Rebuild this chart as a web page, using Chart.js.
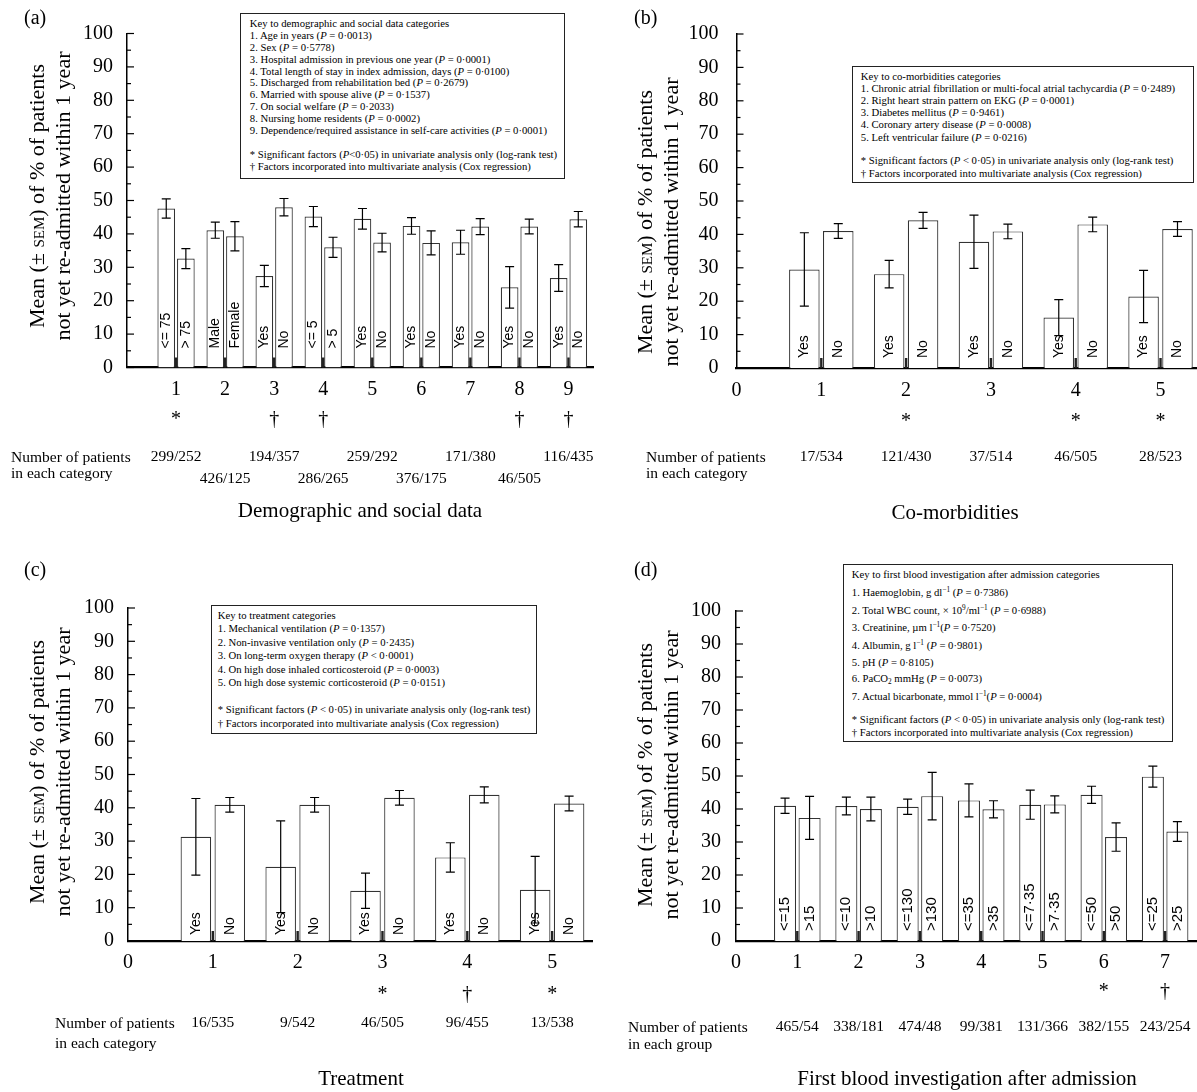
<!DOCTYPE html>
<html>
<head>
<meta charset="utf-8">
<script src="https://cdn.jsdelivr.net/npm/chart.js@4.4.1/dist/chart.umd.min.js"></script>
<style>
html,body{margin:0;padding:0;background:#fff;}
body{width:1197px;height:1092px;position:relative;overflow:hidden;font-family:"Liberation Serif","Times New Roman",serif;color:#000;}
canvas{position:absolute;}
.yt{position:absolute;white-space:nowrap;transform:translate(-50%,-50%) rotate(-90deg);font-size:22px;line-height:26px;text-align:center;}
.sc{font-variant:small-caps;}
.key{position:absolute;border:1.2px solid #222;box-sizing:border-box;background:#fff;}
.key .ln{position:absolute;white-space:nowrap;font-size:10.7px;line-height:12px;}
.key sup{font-size:0.68em;line-height:0;vertical-align:0.55em;}
.key sub{font-size:0.68em;line-height:0;vertical-align:-0.3em;}
.ttl{position:absolute;white-space:nowrap;font-size:21px;transform:translate(-50%,-50%);}
.np{position:absolute;white-space:nowrap;font-size:15.5px;}
.lt{position:absolute;font-size:20px;line-height:20px;transform:translate(0,-50%);}
</style>
</head>
<body>
<script>
// ---------------- DATA ----------------
// (a) Demographic and social data
const demoCategories = [1, 2, 3, 4, 5, 6, 7, 8, 9];
const demoBarLabelsA = ['<= 75', 'Male', 'Yes', '<= 5', 'Yes', 'Yes', 'Yes', 'Yes', 'Yes'];
const demoBarLabelsB = ['> 75', 'Female', 'No', '> 5', 'No', 'No', 'No', 'No', 'No'];
const demoMeanA = [47.6, 41.1, 27.4, 45.2, 44.5, 42.4, 37.5, 24.0, 26.8];
const demoSemA  = [2.9, 2.4, 3.2, 3.0, 3.1, 2.5, 3.6, 6.2, 4.0];
const demoMeanB = [32.6, 39.3, 48.0, 36.0, 37.4, 37.3, 42.2, 42.2, 44.4];
const demoSemB  = [3.0, 4.4, 2.6, 3.0, 2.8, 3.6, 2.4, 2.2, 2.3];
const demoPatients = ['299/252', '426/125', '194/357', '286/265', '259/292', '376/175', '171/380', '46/505', '116/435'];
const demoSignif = ['*', '', '†', '†', '', '', '', '†', '†'];

// (b) Co-morbidities
const comorbCategories = [1, 2, 3, 4, 5];
const comorbBarLabelsA = ['Yes', 'Yes', 'Yes', 'Yes', 'Yes'];
const comorbBarLabelsB = ['No', 'No', 'No', 'No', 'No'];
const comorbMeanYes = [29.5, 28.1, 37.8, 15.1, 21.4];
const comorbSemYes  = [11.0, 4.1, 8.0, 5.4, 7.8];
const comorbMeanNo  = [41.0, 44.2, 40.9, 43.0, 41.6];
const comorbSemNo   = [2.2, 2.4, 2.2, 2.2, 2.2];
const comorbPatients = ['17/534', '121/430', '37/514', '46/505', '28/523'];
const comorbSignif = ['', '*', '', '*', '*'];

// (c) Treatment
const treatCategories = [1, 2, 3, 4, 5];
const treatBarLabelsA = ['Yes', 'Yes', 'Yes', 'Yes', 'Yes'];
const treatBarLabelsB = ['No', 'No', 'No', 'No', 'No'];
const treatMeanYes = [31.3, 22.3, 15.1, 25.1, 15.4];
const treatSemYes  = [11.5, 13.8, 5.3, 4.4, 10.0];
const treatMeanNo  = [40.9, 40.9, 43.0, 43.9, 41.3];
const treatSemNo   = [2.2, 2.2, 2.2, 2.4, 2.2];
const treatPatients = ['16/535', '9/542', '46/505', '96/455', '13/538'];
const treatSignif = ['', '', '*', '†', '*'];

// (d) First blood investigation after admission
const bloodCategories = [1, 2, 3, 4, 5, 6, 7];
const bloodBarLabelsA = ['<=15', '<=10', '<=130', '<=35', '<=7·35', '<=50', '<=25'];
const bloodBarLabelsB = ['>15', '>10', '>130', '>35', '>7·35', '>50', '>25'];
const bloodMeanLow  = [41.0, 40.9, 40.7, 42.6, 41.3, 44.3, 49.8];
const bloodSemLow   = [2.3, 2.7, 2.3, 5.0, 4.4, 2.6, 3.2];
const bloodMeanHigh = [37.3, 40.0, 43.9, 39.9, 41.4, 31.5, 33.2];
const bloodSemHigh  = [6.5, 3.6, 7.2, 2.6, 2.6, 4.3, 3.0];
const bloodPatients = ['465/54', '338/181', '474/48', '99/381', '131/366', '382/155', '243/254'];
const bloodSignif = ['', '', '', '', '', '*', '†'];

const yTickLabels = [0, 10, 20, 30, 40, 50, 60, 70, 80, 90, 100];

// ---------------- TEXT ----------------
const keyDemo = [
  'Key to demographic and social data categories',
  '1. Age in years (<i>P</i> = 0·0013)',
  '2. Sex (<i>P</i> = 0·5778)',
  '3. Hospital admission in previous one year (<i>P</i> = 0·0001)',
  '4. Total length of stay in index admission, days (<i>P</i> = 0·0100)',
  '5. Discharged from rehabilitation bed (<i>P</i> = 0·2679)',
  '6. Married with spouse alive (<i>P</i> = 0·1537)',
  '7. On social welfare (<i>P</i> = 0·2033)',
  '8. Nursing home residents (<i>P</i> = 0·0002)',
  '9. Dependence/required assistance in self-care activities (<i>P</i> = 0·0001)',
  '* Significant factors (<i>P</i>&lt;0·05) in univariate analysis only (log-rank test)',
  '† Factors incorporated into multivariate analysis (Cox regression)'
];
const keyComorb = [
  'Key to co-morbidities categories',
  '1. Chronic atrial fibrillation or multi-focal atrial tachycardia (<i>P</i> = 0·2489)',
  '2. Right heart strain pattern on EKG (<i>P</i> = 0·0001)',
  '3. Diabetes mellitus (<i>P</i> = 0·9461)',
  '4. Coronary artery disease (<i>P</i> = 0·0008)',
  '5. Left ventricular failure (<i>P</i> = 0·0216)',
  '* Significant factors (<i>P</i> &lt; 0·05) in univariate analysis only (log-rank test)',
  '† Factors incorporated into multivariate analysis (Cox regression)'
];
const keyTreat = [
  'Key to treatment categories',
  '1. Mechanical ventilation (<i>P</i> = 0·1357)',
  '2. Non-invasive ventilation only (<i>P</i> = 0·2435)',
  '3. On long-term oxygen therapy (<i>P</i> &lt; 0·0001)',
  '4. On high dose inhaled corticosteroid (<i>P</i> = 0·0003)',
  '5. On high dose systemic corticosteroid (<i>P</i> = 0·0151)',
  '* Significant factors (<i>P</i> &lt; 0·05) in univariate analysis only (log-rank test)',
  '† Factors incorporated into multivariate analysis (Cox regression)'
];
const keyBlood = [
  'Key to first blood investigation after admission categories',
  '1. Haemoglobin, g dl<sup>−1</sup> (<i>P</i> = 0·7386)',
  '2. Total WBC count, × 10<sup>9</sup>/ml<sup>−1</sup> (<i>P</i> = 0·6988)',
  '3. Creatinine, µm l<sup>−1</sup>(<i>P</i> = 0·7520)',
  '4. Albumin, g l<sup>−1</sup> (<i>P</i> = 0·9801)',
  '5. pH (<i>P</i> = 0·8105)',
  '6. PaCO<sub>2</sub> mmHg (<i>P</i> = 0·0073)',
  '7. Actual bicarbonate, mmol l<sup>−1</sup>(<i>P</i> = 0·0004)',
  '* Significant factors (<i>P</i> &lt; 0·05) in univariate analysis only (log-rank test)',
  '† Factors incorporated into multivariate analysis (Cox regression)'
];

// ---------------- LAYOUT ----------------
const SERIF = '"Liberation Serif", "Times New Roman", serif';
const SANS = '"Liberation Sans", Arial, sans-serif';
const OFF = 0.2;

const panels = [
  { id:'a', box:{left:0, top:0, w:598, h:546}, area:{left:127, top:33.5, right:593, bottom:367.5},
    xMax:9.5, showZero:false, xPad:10, yPad:14,
    cats:demoCategories, meanA:demoMeanA, semA:demoSemA, meanB:demoMeanB, semB:demoSemB,
    labA:demoBarLabelsA, labB:demoBarLabelsB, patients:demoPatients, signif:demoSignif,
    labGap:19, labFont:14, markBase:57.5, countRows:[89.5, 111.5] },
  { id:'b', box:{left:598, top:0, w:599, h:546}, area:{left:736.5, top:34, right:1197, bottom:368},
    xMax:5.43, showZero:true, xPad:11, yPad:18,
    cats:comorbCategories, meanA:comorbMeanYes, semA:comorbSemYes, meanB:comorbMeanNo, semB:comorbSemNo,
    labA:comorbBarLabelsA, labB:comorbBarLabelsB, patients:comorbPatients, signif:comorbSignif,
    labGap:10, labFont:14, markBase:59, countRows:[89] },
  { id:'c', box:{left:0, top:546, w:598, h:546}, area:{left:128, top:608, right:592, bottom:941},
    xMax:5.47, showZero:true, xPad:10, yPad:14,
    cats:treatCategories, meanA:treatMeanYes, semA:treatSemYes, meanB:treatMeanNo, semB:treatSemNo,
    labA:treatBarLabelsA, labB:treatBarLabelsB, patients:treatPatients, signif:treatSignif,
    labGap:6, labFont:14, markBase:59, countRows:[82] },
  { id:'d', box:{left:598, top:546, w:599, h:546}, area:{left:736, top:611, right:1197, bottom:941},
    xMax:7.52, showZero:true, xPad:10, yPad:15,
    cats:bloodCategories, meanA:bloodMeanLow, semA:bloodSemLow, meanB:bloodMeanHigh, semB:bloodSemHigh,
    labA:bloodBarLabelsA, labB:bloodBarLabelsB, patients:bloodPatients, signif:bloodSignif,
    labGap:10, labFont:15, markBase:56, countRows:[86] }
];

const keys = [
  { lines:keyDemo,   left:240, top:13, right:565,  bottom:179, textLeft:250,
    ys:[23, 35, 46.9, 58.8, 70.7, 82.6, 94.5, 106.4, 118.3, 130.2, 154, 166] },
  { lines:keyComorb, left:852, top:66, right:1194, bottom:183, textLeft:861,
    ys:[76, 88, 100.2, 112.4, 124.6, 136.8, 160, 173] },
  { lines:keyTreat,  left:211, top:605, right:537, bottom:734, textLeft:218,
    ys:[615, 628.5, 642, 655.5, 669, 682.5, 709, 723] },
  { lines:keyBlood,  left:843, top:564, right:1173, bottom:742, textLeft:852,
    ys:[574, 592, 610, 627, 645, 662, 678, 696, 719, 732] }
];

const yTitles = [ {x:50, y:196}, {x:658, y:222}, {x:50, y:772}, {x:658, y:775} ];
const letters = [ {t:'(a)', x:24, y:17}, {t:'(b)', x:634, y:17}, {t:'(c)', x:24, y:569}, {t:'(d)', x:634, y:569} ];
const xTitles = [
  {t:'Demographic and social data', x:360, y:510},
  {t:'Co-morbidities', x:955, y:512},
  {t:'Treatment', x:361, y:1078},
  {t:'First blood investigation after admission', x:967, y:1078}
];
const npLabels = [
  {l1:'Number of patients', l2:'in each category', x:11, y:449, lh:16},
  {l1:'Number of patients', l2:'in each category', x:646, y:449, lh:16},
  {l1:'Number of patients', l2:'in each category', x:55, y:1013, lh:19.5},
  {l1:'Number of patients', l2:'in each group', x:628, y:1019, lh:16.5}
];

// ---------------- HTML TEXT ----------------
function add(html, cls, style) {
  const d = document.createElement('div');
  d.className = cls; d.innerHTML = html;
  Object.assign(d.style, style);
  document.body.appendChild(d);
  return d;
}
yTitles.forEach(p => add('Mean (± <span class="sc">sem</span>) of % of patients<br>not yet re-admitted within 1 year', 'yt', {left:p.x+'px', top:p.y+'px'}));
letters.forEach(p => add(p.t, 'lt', {left:p.x+'px', top:p.y+'px'}));
xTitles.forEach(p => add(p.t, 'ttl', {left:p.x+'px', top:p.y+'px'}));
npLabels.forEach(p => add(p.l1 + '<br>' + p.l2, 'np', {left:p.x+'px', top:p.y+'px', lineHeight:p.lh+'px'}));
keys.forEach(k => {
  const box = add('', 'key', {left:k.left+'px', top:k.top+'px', width:(k.right-k.left)+'px', height:(k.bottom-k.top)+'px'});
  k.lines.forEach((ln, i) => {
    const d = document.createElement('div');
    d.className = 'ln'; d.innerHTML = ln;
    d.style.left = (k.textLeft - k.left - 1.2) + 'px';
    d.style.top = (k.ys[i] - k.top - 1.2 - 6) + 'px';
    box.appendChild(d);
  });
});

// ---------------- CHARTS ----------------
function makeOverlay(p, sems, labels) {
  return {
    id: 'overlay_' + p.id,
    afterDatasetsDraw(chart) {
      const ctx = chart.ctx, xs = chart.scales.x, ys = chart.scales.y, ca = chart.chartArea;
      const pts = chart.data.datasets[0].data;
      ctx.save();
      // inward y ticks (major + minor)
      ctx.strokeStyle = '#000'; ctx.lineWidth = 1.2;
      for (let v = 0; v <= 100; v += 5) {
        const y = ys.getPixelForValue(v);
        const len = (v % 10 === 0) ? 7 : 4;
        ctx.beginPath(); ctx.moveTo(ca.left, y); ctx.lineTo(ca.left + len, y); ctx.stroke();
      }
      // dark centre marks
      ctx.fillStyle = '#222';
      p.cats.forEach(k => { const x = xs.getPixelForValue(k); ctx.fillRect(x - 1.2, ca.bottom - 10, 2.4, 10); });
      // error bars
      ctx.strokeStyle = '#000'; ctx.lineWidth = 1.2;
      pts.forEach((pt, i) => {
        const x = xs.getPixelForValue(pt.x);
        const y1 = ys.getPixelForValue(pt.y + sems[i]);
        const y2 = ys.getPixelForValue(pt.y - sems[i]);
        ctx.beginPath();
        ctx.moveTo(x, y1); ctx.lineTo(x, y2);
        ctx.moveTo(x - 4.5, y1); ctx.lineTo(x + 4.5, y1);
        ctx.moveTo(x - 4.5, y2); ctx.lineTo(x + 4.5, y2);
        ctx.stroke();
      });
      // rotated bar labels
      ctx.fillStyle = '#000';
      ctx.font = p.labFont + 'px ' + SANS;
      ctx.textAlign = 'left'; ctx.textBaseline = 'middle';
      pts.forEach((pt, i) => {
        const x = xs.getPixelForValue(pt.x);
        ctx.save(); ctx.translate(x, ca.bottom - p.labGap); ctx.rotate(-Math.PI / 2);
        ctx.fillText(labels[i], 0, 0); ctx.restore();
      });
      // significance marks
      ctx.font = '20px ' + SERIF; ctx.textAlign = 'center'; ctx.textBaseline = 'alphabetic';
      p.cats.forEach((k, i) => { if (p.signif[i]) ctx.fillText(p.signif[i], xs.getPixelForValue(k), ca.bottom + p.markBase); });
      // patient counts
      ctx.font = '15.5px ' + SERIF; ctx.textBaseline = 'middle';
      p.cats.forEach((k, i) => {
        const row = p.countRows[p.countRows.length > 1 ? i % 2 : 0];
        ctx.fillText(p.patients[i], xs.getPixelForValue(k), ca.bottom + row);
      });
      ctx.restore();
    }
  };
}

function buildPanel(p) {
  const cv = document.createElement('canvas');
  cv.width = p.box.w; cv.height = p.box.h;
  Object.assign(cv.style, {left:p.box.left+'px', top:p.box.top+'px', width:p.box.w+'px', height:p.box.h+'px'});
  document.body.insertBefore(cv, document.body.firstChild);
  const areaL = p.area.left - p.box.left, areaT = p.area.top - p.box.top;
  const areaR = p.area.right - p.box.left, areaB = p.area.bottom - p.box.top;
  const xAxisH = 30;
  const pts = [], sems = [], labels = [];
  p.cats.forEach((k, i) => {
    pts.push({x:k - OFF, y:p.meanA[i]}); sems.push(p.semA[i]); labels.push(p.labA[i]);
    pts.push({x:k + OFF, y:p.meanB[i]}); sems.push(p.semB[i]); labels.push(p.labB[i]);
  });
  new Chart(cv, {
    type: 'bar',
    data: { datasets: [{ data: pts, backgroundColor:'#fff', borderColor:'#333', borderWidth:1.2,
                         barPercentage:0.9, categoryPercentage:1 }] },
    options: {
      responsive:false, animation:false, devicePixelRatio:1, events:[],
      layout: { padding: { left:0, top:areaT, right:p.box.w - areaR, bottom:p.box.h - areaB - xAxisH } },
      plugins: { legend:{display:false}, tooltip:{enabled:false} },
      scales: {
        x: { type:'linear', min:0, max:p.xMax, offset:false,
             grid:{display:false, drawTicks:false}, border:{display:true, color:'#000', width:2.2},
             ticks:{ stepSize:1, includeBounds:false, autoSkip:false, maxRotation:0, color:'#000', padding:p.xPad,
                     font:{family:SERIF, size:20},
                     callback:(v) => (Number.isInteger(v) && (v > 0 || p.showZero)) ? String(v) : '' },
             afterFit:(s) => { s.height = xAxisH; s.paddingLeft = 0; s.paddingRight = 0; } },
        y: { type:'linear', min:0, max:100,
             grid:{display:false, drawTicks:false}, border:{display:true, color:'#000', width:1.5},
             ticks:{ stepSize:10, color:'#000', padding:p.yPad, font:{family:SERIF, size:20},
                     callback:(v) => yTickLabels.includes(v) ? String(v) : '' },
             afterFit:(s) => { s.width = areaL; s.paddingTop = 0; s.paddingBottom = 0; } }
      }
    },
    plugins: [makeOverlay(p, sems, labels)]
  });
}
panels.forEach(buildPanel);
</script>
</body>
</html>
